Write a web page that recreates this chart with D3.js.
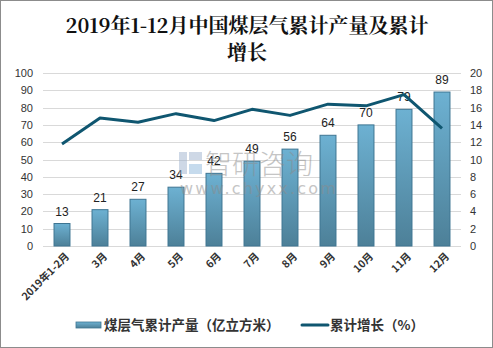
<!DOCTYPE html>
<html><head><meta charset="utf-8">
<script src="https://cdn.jsdelivr.net/npm/d3@7/dist/d3.min.js"></script>
<style>
html,body{margin:0;padding:0;background:#fff;}
svg{display:block;}
</style></head>
<body><svg id="c" width="493" height="348"></svg>
<script>
const categories = ["2019年1-2月","3月","4月","5月","6月","7月","8月","9月","10月","11月","12月"];
const production = [13,21,27,34,42,49,56,64,70,79,89];
const growth = [11.8,14.8,14.3,15.3,14.5,15.8,15.1,16.4,16.2,17.5,13.6];
const leftTicks = [0,10,20,30,40,50,60,70,80,90,100];
const rightTicks = [0,2,4,6,8,10,12,14,16,18,20];
const titleLines = ["2019年1-12月中国煤层气累计产量及累计","增长"];
const legendLabels = ["煤层气累计产量（亿立方米）","累计增长（%）"];

const svg = d3.select("#c");
const W=493,H=348;
const m={l:43,r:461,t:73,b:246};

svg.append("rect").attr("x",0.5).attr("y",0.5).attr("width",W-1).attr("height",H-1)
  .attr("fill","#fff").attr("stroke","#8c8c8c").attr("stroke-width",1);

const defs=svg.append("defs");
const g=defs.append("linearGradient").attr("id","bg").attr("x1",0).attr("y1",0).attr("x2",0).attr("y2",1);
g.append("stop").attr("offset","0%").attr("stop-color","#6db1d2");
g.append("stop").attr("offset","100%").attr("stop-color","#4d8098");
const lg=defs.append("linearGradient").attr("id","lg").attr("x1",0).attr("y1",0).attr("x2",0).attr("y2",1);
lg.append("stop").attr("offset","0%").attr("stop-color","#6db1d2");
lg.append("stop").attr("offset","100%").attr("stop-color","#4d8098");

// title
svg.append("g").selectAll("text").data(titleLines).join("text")
  .attr("x",247).attr("y",(d,i)=>33+i*27).attr("text-anchor","middle")
  .attr("font-family","'Noto Serif CJK SC','Liberation Serif','DejaVu Serif',serif")
  .attr("font-weight","bold").attr("font-size",20).attr("fill","#111").text(d=>d);

const x=d3.scaleBand().domain(categories).range([m.l,m.r]).paddingInner(0.58).paddingOuter(0.29);
const yL=d3.scaleLinear().domain([0,100]).range([m.b,m.t]);
const yR=d3.scaleLinear().domain([0,20]).range([m.b,m.t]);

// grid
svg.append("g").selectAll("line").data(leftTicks).join("line")
  .attr("x1",m.l).attr("x2",m.r).attr("y1",d=>Math.round(yL(d))+0.5).attr("y2",d=>Math.round(yL(d))+0.5)
  .attr("stroke","#d9d9d9").attr("stroke-width",1);

const font="'Liberation Sans','DejaVu Sans',Arial,sans-serif";
// left axis
const ax=svg.append("g").attr("transform",`translate(${m.l-4},0)`)
  .call(d3.axisLeft(yL).tickValues(leftTicks).tickSize(0).tickPadding(6));
ax.select(".domain").remove();
ax.selectAll("text").attr("font-family",font).attr("font-size",11).attr("fill","#333");
const axr=svg.append("g").attr("transform",`translate(${m.r+3},0)`)
  .call(d3.axisRight(yR).tickValues(rightTicks).tickSize(0).tickPadding(6));
axr.select(".domain").remove();
axr.selectAll("text").attr("font-family",font).attr("font-size",11).attr("fill","#333");

// bars
svg.append("g").selectAll("rect").data(production).join("rect")
  .attr("x",(d,i)=>x(categories[i])).attr("width",x.bandwidth())
  .attr("y",d=>yL(d)).attr("height",d=>yL(0)-yL(d))
  .attr("fill","url(#bg)").attr("stroke","#3e7592").attr("stroke-width",1);

// bar labels
svg.append("g").selectAll("text").data(production).join("text")
  .attr("x",(d,i)=>x(categories[i])+x.bandwidth()/2).attr("y",d=>yL(d)-8)
  .attr("text-anchor","middle").attr("font-family",font).attr("font-size",12).attr("fill","#222").text(d=>d);

// line
const line=d3.line().x((d,i)=>x(categories[i])+x.bandwidth()/2).y(d=>yR(d));
svg.append("path").datum(growth).attr("d",line).attr("fill","none")
  .attr("stroke","#0f5670").attr("stroke-width",3).attr("stroke-linejoin","round");

// watermark (on top, semi-transparent)
const wm=svg.append("g").attr("opacity",0.5);
wm.append("rect").attr("x",179).attr("y",152).attr("width",8).attr("height",22).attr("fill","#9fb3cf");
wm.append("rect").attr("x",189).attr("y",152).attr("width",13).attr("height",8).attr("fill","#9fb3cf");
wm.append("rect").attr("x",189).attr("y",164).attr("width",13).attr("height",10).attr("fill","#8fb8dd");
wm.append("text").attr("x",205).attr("y",174).attr("font-family","'Noto Sans CJK SC',sans-serif").attr("font-weight",300)
  .attr("font-size",27).attr("fill","#8c8c8c").text("智研咨询");
wm.append("text").attr("x",180).attr("y",194).attr("font-family","'DejaVu Sans',sans-serif")
  .attr("font-size",16).attr("letter-spacing",2.2).attr("fill","#8c8c8c").text("www.chyxx.com");

// x labels
svg.append("g").selectAll("text").data(categories).join("text")
  .attr("transform",(d,i)=>`translate(${x(d)+x.bandwidth()/2+6},${m.b+9}) rotate(-45)`)
  .attr("text-anchor","end").attr("dominant-baseline","middle")
  .attr("font-family","'Noto Sans CJK SC',sans-serif").attr("font-weight","bold").attr("font-size",10.5).attr("fill","#333").text(d=>d);

// legend
const lgd=svg.append("g");
lgd.append("rect").attr("x",76).attr("y",322).attr("width",25).attr("height",6).attr("fill","url(#lg)").attr("stroke","#3e7592").attr("stroke-width",0.8);
lgd.append("text").attr("x",104).attr("y",330).attr("font-family","'Noto Sans CJK SC',sans-serif").attr("font-weight","bold")
  .attr("font-size",13.5).attr("fill","#333").text(legendLabels[0]);
lgd.append("line").attr("x1",302).attr("x2",328).attr("y1",325).attr("y2",325).attr("stroke","#0f5670").attr("stroke-width",3).attr("stroke-linecap","round");
lgd.append("text").attr("x",330).attr("y",330).attr("font-family","'Noto Sans CJK SC',sans-serif").attr("font-weight","bold")
  .attr("font-size",13.5).attr("fill","#333").text(legendLabels[1]);
</script></body></html>
